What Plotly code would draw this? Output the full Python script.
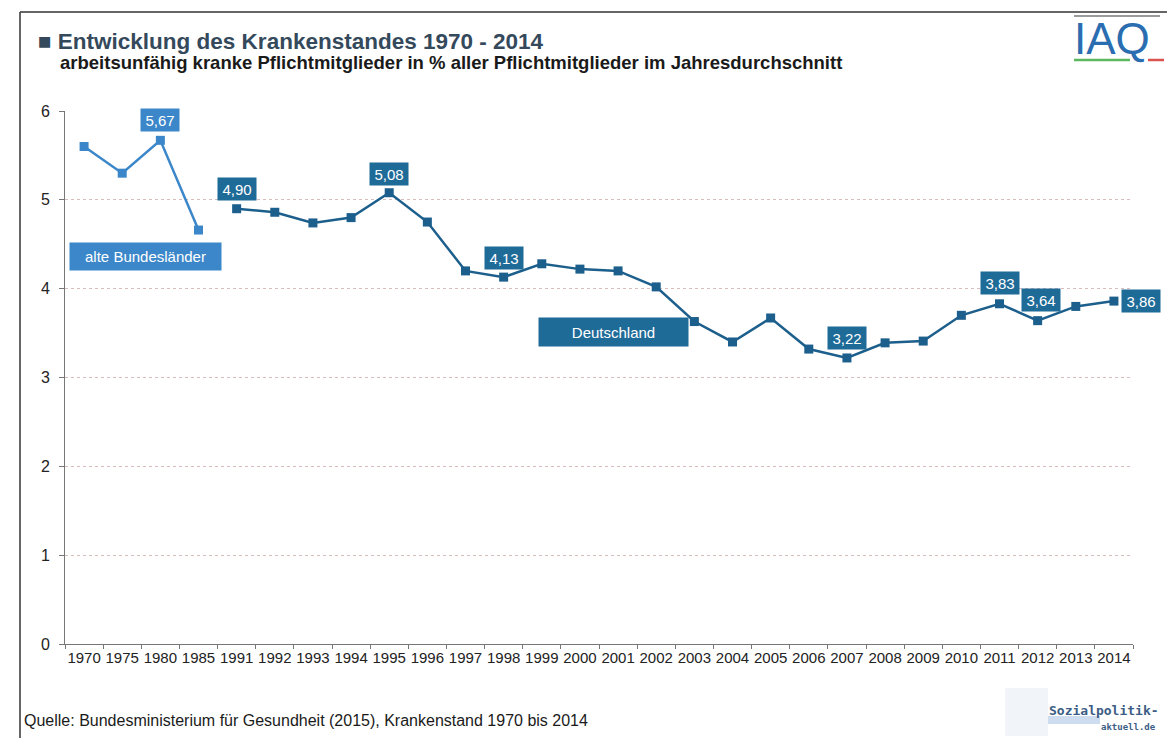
import plotly.graph_objects as go

years = ["1970", "1975", "1980", "1985", "1991", "1992", "1993", "1994", "1995", "1996",
         "1997", "1998", "1999", "2000", "2001", "2002", "2003", "2004", "2005", "2006",
         "2007", "2008", "2009", "2010", "2011", "2012", "2013", "2014"]
alt_years = ["1970", "1975", "1980", "1985"]
alt_values = [5.60, 5.30, 5.67, 4.66]
de_years = years[4:]
de_values = [4.90, 4.86, 4.74, 4.80, 5.08, 4.75, 4.20, 4.13, 4.28, 4.22, 4.20, 4.02,
             3.63, 3.40, 3.67, 3.32, 3.22, 3.39, 3.41, 3.70, 3.83, 3.64, 3.80, 3.86]
alt_labels = {"1980": (0, 20)}
de_labels = {"1991": (0, 20), "1995": (0, 19), "1998": (0, 19), "2007": (0, 20),
             "2011": (0, 21), "2012": (3, 21), "2014": (27, 0)}

LIGHT = "#3b87c9"
DARK = "#1d5f8c"
BOX = "#1f6b98"

W, H = 1167, 738
L, R, T, B = 65, 34, 111, 94
pw, ph = W - L - R, H - T - B

def px(x):
    return (x - L) / pw

def py(y):
    return (H - B - y) / ph

fig = go.Figure()
fig.add_trace(go.Scatter(x=alt_years, y=alt_values, mode="lines+markers",
                         line=dict(color=LIGHT, width=2.5),
                         marker=dict(symbol="square", size=9, color=LIGHT),
                         name="alte Bundesländer", cliponaxis=False))
fig.add_trace(go.Scatter(x=de_years, y=de_values, mode="lines+markers",
                         line=dict(color=DARK, width=2.5),
                         marker=dict(symbol="square", size=9, color=DARK),
                         name="Deutschland", cliponaxis=False))

def fmt(v):
    return f"{v:.2f}".replace(".", ",")

ann = []
for yr, (xs, ys) in alt_labels.items():
    v = alt_values[alt_years.index(yr)]
    ann.append(dict(x=years.index(yr), y=v, xref="x", yref="y", text=fmt(v), showarrow=False,
                    xshift=xs, yshift=ys, bgcolor=LIGHT,
                    font=dict(color="white", size=15, family="Liberation Sans"),
                    borderpad=0, width=38, height=22))
for yr, (xs, ys) in de_labels.items():
    v = de_values[de_years.index(yr)]
    ann.append(dict(x=years.index(yr), y=v, xref="x", yref="y", text=fmt(v), showarrow=False,
                    xshift=xs, yshift=ys, bgcolor=BOX,
                    font=dict(color="white", size=15, family="Liberation Sans"),
                    borderpad=0, width=38, height=22))

ann.append(dict(x=1.6, y=4.36, xref="x", yref="y", text="alte Bundesländer", showarrow=False,
                bgcolor=LIGHT, font=dict(color="white", size=15, family="Liberation Sans"),
                width=151, height=27, borderpad=0))
ann.append(dict(x=13.87, y=3.51, xref="x", yref="y", text="Deutschland", showarrow=False,
                bgcolor=BOX, font=dict(color="white", size=15, family="Liberation Sans"),
                width=149, height=28, borderpad=0))

# titles
ann.append(dict(xref="paper", yref="paper", x=px(36), y=py(41), xanchor="left", yanchor="middle",
                text="<b>■ Entwicklung des Krankenstandes 1970 - 2014</b>", showarrow=False,
                font=dict(size=22.5, color="#34495b", family="Liberation Sans")))
ann.append(dict(xref="paper", yref="paper", x=px(58), y=py(63), xanchor="left", yanchor="middle",
                text="<b>arbeitsunfähig kranke Pflichtmitglieder in % aller Pflichtmitglieder im Jahresdurchschnitt</b>",
                showarrow=False, font=dict(size=18.5, color="#1a1a1a", family="Liberation Sans")))
ann.append(dict(xref="paper", yref="paper", x=px(22), y=py(720), xanchor="left", yanchor="middle",
                text="Quelle: Bundesministerium für Gesundheit (2015), Krankenstand 1970 bis 2014",
                showarrow=False, font=dict(size=16, color="#1a1a1a", family="Liberation Sans")))
# IAQ logo
ann.append(dict(xref="paper", yref="paper", x=px(1072), y=py(39), xanchor="left", yanchor="middle",
                text="IAQ", showarrow=False,
                font=dict(size=44, color="#2a6db0", family="Liberation Sans")))
# Sozialpolitik logo
ann.append(dict(xref="paper", yref="paper", x=px(1161), y=py(710), xanchor="right", yanchor="middle",
                text="<b>Sozialpolitik-</b>", showarrow=False,
                font=dict(size=13, color="#3c5d85", family="DejaVu Sans Mono")))
ann.append(dict(xref="paper", yref="paper", x=px(1158), y=py(727), xanchor="right", yanchor="middle",
                text="<b>aktuell.de</b>", showarrow=False,
                font=dict(size=9, color="#3c5d85", family="DejaVu Sans Mono")))

shapes = [
    dict(type="line", xref="paper", yref="paper", x0=px(20), x1=px(1167), y0=py(12), y1=py(12),
         line=dict(color="#333333", width=1.5)),
    dict(type="line", xref="paper", yref="paper", x0=px(20), x1=px(20), y0=py(12), y1=py(738),
         line=dict(color="#333333", width=1.5)),
    dict(type="line", xref="paper", yref="paper", x0=px(1074), x1=px(1160), y0=py(16), y1=py(16),
         line=dict(color="#9a9a9a", width=2)),
    dict(type="line", xref="paper", yref="paper", x0=px(1074), x1=px(1130), y0=py(60), y1=py(60),
         line=dict(color="#5cb85c", width=2.5)),
    dict(type="line", xref="paper", yref="paper", x0=px(1148), x1=px(1164), y0=py(60), y1=py(60),
         line=dict(color="#d9534f", width=2.5)),
    dict(type="rect", xref="paper", yref="paper", x0=px(1005), x1=px(1048), y0=py(688), y1=py(736),
         fillcolor="rgba(120,160,210,0.10)", line=dict(width=0), layer="below"),
    dict(type="rect", xref="paper", yref="paper", x0=px(1048), x1=px(1100), y0=py(716), y1=py(724),
         fillcolor="rgba(90,140,200,0.30)", line=dict(width=0), layer="below"),
]

fig.update_layout(
    width=W, height=H,
    margin=dict(l=L, r=R, t=T, b=B),
    paper_bgcolor="white", plot_bgcolor="white",
    showlegend=False,
    annotations=ann, shapes=shapes,
    font=dict(family="Liberation Sans", color="#222222"),
    xaxis=dict(type="category", categoryorder="array", categoryarray=years,
               range=[-0.5, 27.5], showgrid=False, showline=True, linecolor="#777777",
               linewidth=1, ticks="outside", tickson="boundaries", ticklen=4, tickangle=0,
               tickcolor="#777777", tickfont=dict(size=15, color="#222222"), zeroline=False),
    yaxis=dict(range=[0, 6], dtick=1, showgrid=True, gridcolor="#d9bcbc", griddash="dot",
               gridwidth=1, showline=True, linecolor="#777777", linewidth=1, ticks="outside",
               ticklen=5, tickcolor="#777777", tickfont=dict(size=16, color="#222222"),
               zeroline=False, ticklabelstandoff=6),
)

fig.write_html("out.html", config={"displayModeBar": False},
               post_script="document.body.style.margin='0';")
